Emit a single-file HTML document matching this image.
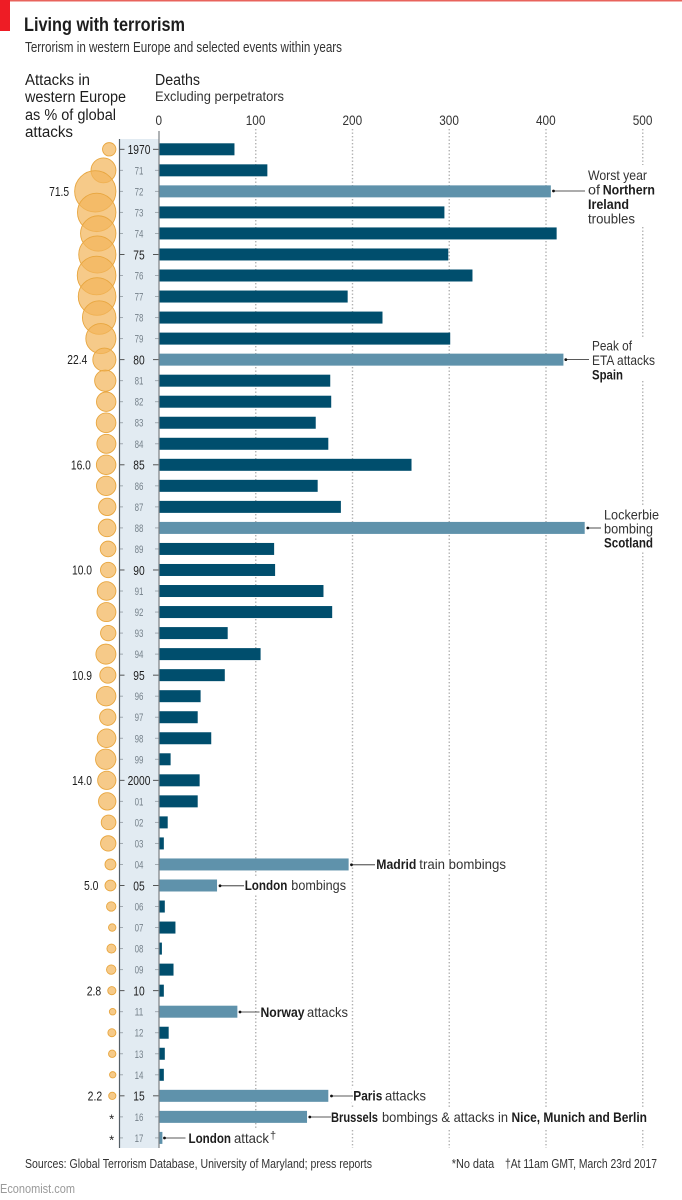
<!DOCTYPE html>
<html lang="en">
<head>
<meta charset="utf-8">
<title>Living with terrorism</title>
<style>
html,body{margin:0;padding:0;background:#fff;}
svg{display:block;font-family:"Liberation Sans",sans-serif;}
text{fill:#1d1d1d;}
.b{font-weight:bold;}
.an{font-size:14px;}
.src{font-size:12.5px;fill:#333;}
</style>
</head>
<body>
<svg id="chart" width="682" height="1200" viewBox="0 0 682 1200" xmlns="http://www.w3.org/2000/svg">
  <rect x="0" y="0" width="682" height="1200" fill="#ffffff"/>
  <rect x="0" y="0" width="682" height="1.5" fill="#e8635c"/>
  <rect x="0" y="0" width="10" height="31" fill="#ee1c25"/>

  <text x="24" y="31" class="b" font-size="19.5" textLength="161" lengthAdjust="spacingAndGlyphs">Living with terrorism</text>
  <text x="25" y="52" font-size="14.5" textLength="317" lengthAdjust="spacingAndGlyphs" style="fill:#333">Terrorism in western Europe and selected events within years</text>

  <g font-size="15.5">
    <text x="25" y="85" textLength="65" lengthAdjust="spacingAndGlyphs">Attacks in</text>
    <text x="25" y="102" textLength="101" lengthAdjust="spacingAndGlyphs">western Europe</text>
    <text x="25" y="120" textLength="91" lengthAdjust="spacingAndGlyphs">as % of global</text>
    <text x="25" y="137" textLength="48" lengthAdjust="spacingAndGlyphs">attacks</text>
  </g>
  <text x="155" y="85" font-size="15.5" textLength="45" lengthAdjust="spacingAndGlyphs">Deaths</text>
  <text x="155" y="101" font-size="14" textLength="129" lengthAdjust="spacingAndGlyphs" style="fill:#333">Excluding perpetrators</text>

  <g id="grid"></g>
  <rect x="119.5" y="139" width="39.5" height="1009" fill="#e2ebf2"/>
  <g id="circles"></g>
  <g id="bars"></g>
  <g id="yearAxis"></g>
  <line x1="119.5" y1="139" x2="119.5" y2="1148" stroke="#555f66" stroke-width="1.2"/>
  <line x1="159" y1="131" x2="159" y2="1148" stroke="#7a7f83" stroke-width="1.2"/>
  <g id="ticks"></g>
  <g id="shareLabels"></g>

  <g class="an">
    <rect x="586" y="165" width="72" height="62" fill="#fff"/>
    <line x1="553" y1="191" x2="585" y2="191" stroke="#222" stroke-width="0.8"/>
    <circle cx="553.5" cy="191" r="1.4" fill="#111"/>
    <text x="588" y="180" textLength="59" lengthAdjust="spacingAndGlyphs" style="fill:#333">Worst year</text>
    <text x="588" y="194.5" textLength="12" lengthAdjust="spacingAndGlyphs" style="fill:#333">of</text>
    <text x="602.7" y="194.5" class="b" textLength="52.3" lengthAdjust="spacingAndGlyphs">Northern</text>
    <text x="588" y="209" class="b" textLength="41" lengthAdjust="spacingAndGlyphs">Ireland</text>
    <text x="588" y="223.5" textLength="47" lengthAdjust="spacingAndGlyphs" style="fill:#333">troubles</text>
  </g>
  <g class="an">
    <rect x="589" y="339" width="69" height="41" fill="#fff"/>
    <line x1="565" y1="359.6" x2="589" y2="359.6" stroke="#222" stroke-width="0.8"/>
    <circle cx="565.8" cy="359.6" r="1.4" fill="#111"/>
    <text x="592" y="350.5" textLength="40" lengthAdjust="spacingAndGlyphs" style="fill:#333">Peak of</text>
    <text x="592" y="365" textLength="63" lengthAdjust="spacingAndGlyphs" style="fill:#333">ETA attacks</text>
    <text x="592" y="379.5" class="b" textLength="31" lengthAdjust="spacingAndGlyphs">Spain</text>
  </g>
  <g class="an">
    <rect x="602" y="506" width="58" height="46" fill="#fff"/>
    <line x1="587" y1="528" x2="601" y2="528" stroke="#222" stroke-width="0.8"/>
    <circle cx="587.8" cy="528" r="1.4" fill="#111"/>
    <text x="604" y="519.3" textLength="55" lengthAdjust="spacingAndGlyphs" style="fill:#333">Lockerbie</text>
    <text x="604" y="533.3" textLength="49" lengthAdjust="spacingAndGlyphs" style="fill:#333">bombing</text>
    <text x="604" y="547.7" class="b" textLength="49" lengthAdjust="spacingAndGlyphs">Scotland</text>
  </g>
  <g class="an">
    <rect x="375" y="856" width="133" height="18" fill="#fff"/>
    <line x1="351" y1="864.8" x2="375" y2="864.8" stroke="#222" stroke-width="0.8"/>
    <circle cx="351.5" cy="864.8" r="1.4" fill="#111"/>
    <text x="376.3" y="869" class="b" textLength="40" lengthAdjust="spacingAndGlyphs">Madrid</text>
    <text x="419.3" y="869" textLength="86.7" lengthAdjust="spacingAndGlyphs" style="fill:#333">train bombings</text>
  </g>
  <g class="an">
    <rect x="243.5" y="877" width="104" height="18" fill="#fff"/>
    <line x1="220" y1="885.8" x2="244" y2="885.8" stroke="#222" stroke-width="0.8"/>
    <circle cx="220" cy="885.8" r="1.4" fill="#111"/>
    <text x="244.7" y="890" class="b" textLength="42.6" lengthAdjust="spacingAndGlyphs">London</text>
    <text x="291.3" y="890" textLength="54.7" lengthAdjust="spacingAndGlyphs" style="fill:#333">bombings</text>
  </g>
  <g class="an">
    <rect x="259" y="1003" width="91" height="18" fill="#fff"/>
    <line x1="240" y1="1012" x2="259.5" y2="1012" stroke="#222" stroke-width="0.8"/>
    <circle cx="240" cy="1012" r="1.4" fill="#111"/>
    <text x="260.5" y="1017" class="b" textLength="44" lengthAdjust="spacingAndGlyphs">Norway</text>
    <text x="307" y="1017" textLength="41" lengthAdjust="spacingAndGlyphs" style="fill:#333">attacks</text>
  </g>
  <g class="an">
    <rect x="352" y="1087" width="76" height="18" fill="#fff"/>
    <line x1="331" y1="1096" x2="353" y2="1096" stroke="#222" stroke-width="0.8"/>
    <circle cx="331.5" cy="1096" r="1.4" fill="#111"/>
    <text x="353.3" y="1100.5" class="b" textLength="29" lengthAdjust="spacingAndGlyphs">Paris</text>
    <text x="385" y="1100.5" textLength="41" lengthAdjust="spacingAndGlyphs" style="fill:#333">attacks</text>
  </g>
  <g class="an">
    <rect x="329" y="1108" width="320" height="20" fill="#fff"/>
    <line x1="309" y1="1117" x2="331" y2="1117" stroke="#222" stroke-width="0.8"/>
    <circle cx="309.8" cy="1117" r="1.4" fill="#111"/>
    <text x="331" y="1122" class="b" textLength="47" lengthAdjust="spacingAndGlyphs">Brussels</text>
    <text x="382" y="1122" textLength="126" lengthAdjust="spacingAndGlyphs" style="fill:#333">bombings &amp; attacks in</text>
    <text x="511.5" y="1122" class="b" textLength="135.5" lengthAdjust="spacingAndGlyphs">Nice, Munich and Berlin</text>
  </g>
  <g class="an">
    <rect x="163" y="1129" width="114" height="20" fill="#fff"/>
    <line x1="164" y1="1138" x2="185.5" y2="1138" stroke="#222" stroke-width="0.8"/>
    <circle cx="164.5" cy="1138" r="1.4" fill="#111"/>
    <text x="188.5" y="1143" class="b" textLength="42.5" lengthAdjust="spacingAndGlyphs">London</text>
    <text x="234" y="1143" textLength="35" lengthAdjust="spacingAndGlyphs" style="fill:#333">attack</text>
    <text x="270" y="1139" font-size="11" style="fill:#333">†</text>
  </g>

  <text x="25" y="1168" class="src" textLength="347" lengthAdjust="spacingAndGlyphs">Sources: Global Terrorism Database, University of Maryland; press reports</text>
  <text x="451.7" y="1168" class="src" textLength="42.5" lengthAdjust="spacingAndGlyphs">*No data</text>
  <text x="505" y="1168" class="src" textLength="152" lengthAdjust="spacingAndGlyphs">†At 11am GMT, March 23rd 2017</text>
  <text x="0" y="1193" font-size="13" textLength="75" lengthAdjust="spacingAndGlyphs" style="fill:#9a9a9a">Economist.com</text>
</svg>
<script>
const yearLabels = ["1970","71","72","73","74","75","76","77","78","79","80","81","82","83","84","85","86","87","88","89","90","91","92","93","94","95","96","97","98","99","2000","01","02","03","04","05","06","07","08","09","10","11","12","13","14","15","16","17"];
const deaths = [78,112,405,295,411,299,324,195,231,301,418,177,178,162,175,261,164,188,440,119,120,170,179,71,105,68,43,40,54,12,42,40,9,5,196,60,6,17,3,15,5,81,10,6,5,175,153,3.5];
const attackShare = [7.5,26,71.5,62,52.5,58,62.7,59.5,47,38,22.4,19,15.8,16.2,15.2,16.0,15.8,12.6,13,10.3,10.0,14.6,15.2,9.9,16.8,10.9,16,11.2,14.6,17.4,14.0,12.7,9,9.9,5,5.0,3.7,2.3,3.4,3.7,2.8,1.8,2.7,2.3,1.7,2.2,null,null];
const highlightedYears = ["72","80","88","04","05","11","15","16","17"];
const majorYears = ["1970","75","80","85","90","95","2000","05","10","15"];
const printedShareYears = ["72","80","85","90","95","2000","05","10","15"];
const deathTicks = [0,100,200,300,400,500];

const NS = "http://www.w3.org/2000/svg";
const xScale = v => 159 + v * 0.9675;
const yScale = i => 149.3 + i * (1137.9 - 149.3) / 47;
const rScale = v => 2.44 * Math.sqrt(v);
const CIRCLE_RIGHT = 115.9;
const make = (tag, attrs) => {
  const el = document.createElementNS(NS, tag);
  for (const k in attrs) el.setAttribute(k, attrs[k]);
  return el;
};
const gridG = document.getElementById("grid");
const ticksG = document.getElementById("ticks");
const barsG = document.getElementById("bars");
const circlesG = document.getElementById("circles");
const axisG = document.getElementById("yearAxis");
const labelsG = document.getElementById("shareLabels");

deathTicks.forEach(t => {
  const x = xScale(t);
  if (t > 0) {
    const g = make("line", {x1: x, y1: 129, x2: x, y2: 1148, stroke: "#b0b0b0", "stroke-width": 1.4, "stroke-dasharray": "1.4 2.1"});
    
    
    gridG.appendChild(g);
  }
  const s = String(t);
  const lab = make("text", {x: x - 0.2, y: 125, "font-size": 13.5, "text-anchor": "middle", textLength: s.length * 6.55, lengthAdjust: "spacingAndGlyphs"});
  
  
  lab.textContent = s;
  lab.style.fill = "#333";
  ticksG.appendChild(lab);
});

yearLabels.forEach((yr, i) => {
  const y = yScale(i);
  const major = majorYears.includes(yr);

  const bar = make("rect", {x: 159.5, y: y - 6, width: xScale(deaths[i]) - 159.5, height: 12, fill: highlightedYears.includes(yr) ? "#5f92ab" : "#004e6d"});
  
  
  barsG.appendChild(bar);

  const tickL = make("line", {x1: 120, x2: major ? 124.5 : 123, y1: y, y2: y, stroke: major ? "#444" : "#9aa3aa", "stroke-width": 0.9});
  
  
  axisG.appendChild(tickL);

  const tickR = make("line", {x1: major ? 153 : 155, x2: 159, y1: y, y2: y, stroke: major ? "#444" : "#9aa3aa", "stroke-width": 0.9});
  
  
  axisG.appendChild(tickR);

  const lab = make("text", {x: 139, y: y + (major ? 4.8 : 4), "font-size": major ? 12.5 : 11, "text-anchor": "middle", textLength: yr.length * (major ? 5.7 : 4.4), lengthAdjust: "spacingAndGlyphs"});
  
  
  lab.textContent = yr;
  lab.style.fill = major ? "#1d1d1d" : "#75818a";
  axisG.appendChild(lab);

  const v = attackShare[i];
  if (v === null) {
    const star = make("text", {x: 111.6, y: y + 6.5, "font-size": 13, "text-anchor": "middle"});
    
    
    star.textContent = "*";
    circlesG.appendChild(star);
    return;
  }
  const r = rScale(v);
  const cx = CIRCLE_RIGHT - r;
  const c = make("circle", {cx: cx, cy: y, r: r, fill: "#f2b65c", "fill-opacity": 0.72, stroke: "#e8a63f", "stroke-width": 0.9});
  
  
  circlesG.appendChild(c);

  if (printedShareYears.includes(yr)) {
    const s = v.toFixed(1);
    const left = cx - r;
    const labelX = v < 10 ? left - 6.5 : Math.min(92, left - 5.5);
    const sl = make("text", {x: labelX, y: y + 4.6, "font-size": 12.5, "text-anchor": "end", textLength: (s.length - 1) * 5.5 + 3.5, lengthAdjust: "spacingAndGlyphs"});
    
    
    sl.textContent = s;
    labelsG.appendChild(sl);
  }
});
</script>
</body>
</html>
